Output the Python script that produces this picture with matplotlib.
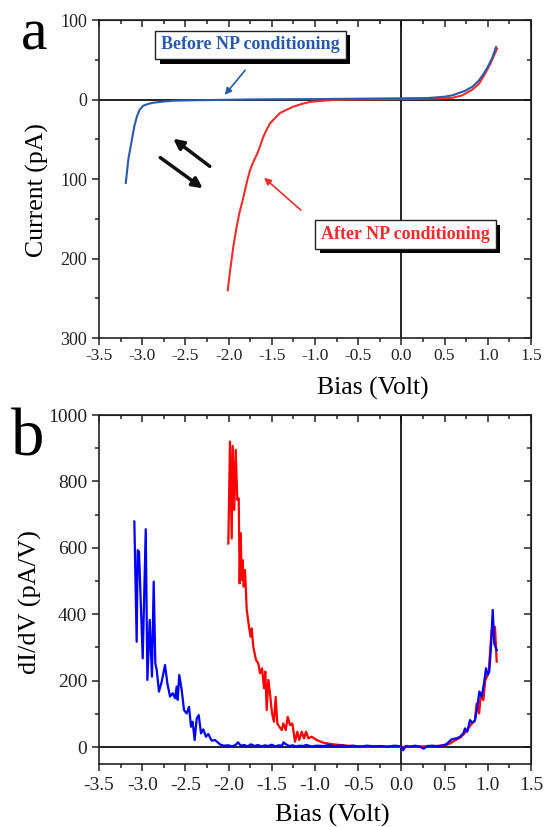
import matplotlib
matplotlib.use("Agg")
import matplotlib.pyplot as plt
from matplotlib.ticker import MultipleLocator, FuncFormatter
import matplotlib.patheffects as pe

plt.rcParams['font.family'] = ['Liberation Serif', 'DejaVu Serif']
plt.rcParams['axes.unicode_minus'] = False

# ---------------- data: panel a (I-V) ----------------
iv_before_x = [-3.19, -3.16, -3.12, -3.09, -3.06, -3.03, -2.99, -2.93, -2.87, -2.75,
               -2.64, -2.4, -2.1, -1.8, -1.5, -1.0, -0.5, 0.0, 0.3, 0.5,
               0.6, 0.66, 0.74, 0.82, 0.89, 0.95, 1.0, 1.05, 1.095]
iv_before_y = [-105, -75, -51, -33, -21, -13, -8, -5.5, -4, -2.5,
               -1.5, -1, -0.5, 0, 0.3, 0.5, 1, 1.5, 1.8, 3.5,
               5.5, 8, 11, 16, 23, 32, 41, 52, 66]

iv_after_x = [-2.01, -1.98, -1.945, -1.91, -1.876, -1.84, -1.81, -1.78, -1.752, -1.72,
              -1.694, -1.66, -1.637, -1.598, -1.56, -1.52, -1.46, -1.405, -1.33, -1.25,
              -1.15, -1.058, -0.9, -0.79, -0.6, -0.41, 0.0, 0.3, 0.5, 0.585,
              0.7, 0.817, 0.9, 0.971, 1.03, 1.107]
iv_after_y = [-240, -213, -185, -162, -143, -128, -114, -100, -89, -80,
              -74, -66, -59, -47, -38, -30, -23, -17, -13, -9,
              -5.5, -3, -1.5, -0.6, -0.2, 0, 0.5, 1, 1.5, 2,
              5, 12, 20, 33, 45, 64]

# ---------------- data: panel b (dI/dV) ----------------
didv_before_x = [-3.091, -3.064, -3.052, -3.037, -2.994, -2.959, -2.94, -2.913, -2.887, -2.867,
                 -2.848, -2.832, -2.806, -2.774, -2.736, -2.709, -2.678, -2.647, -2.62, -2.601,
                 -2.589, -2.571, -2.543, -2.516, -2.485, -2.458, -2.435, -2.416, -2.393, -2.369,
                 -2.346, -2.319, -2.293, -2.262, -2.235, -2.196, -2.157, -2.1, -2.06, -2.0,
                 -1.96, -1.92, -1.89, -1.86, -1.82, -1.78, -1.74, -1.7, -1.66, -1.62,
                 -1.58, -1.54, -1.5, -1.46, -1.42, -1.38, -1.366, -1.34, -1.3, -1.26,
                 -1.22, -1.18, -1.14, -1.1, -1.04, -0.98, -0.9, -0.84, -0.78, -0.7,
                 -0.62, -0.56, -0.48, -0.4, -0.32, -0.24, -0.16, -0.08, 0.0, 0.02,
                 0.05, 0.1, 0.16, 0.22, 0.26, 0.3, 0.36, 0.42, 0.48, 0.524,
                 0.55, 0.582, 0.61, 0.64, 0.678, 0.717, 0.736, 0.763, 0.794, 0.825,
                 0.852, 0.879, 0.902, 0.929, 0.956, 0.979, 0.999, 1.017, 1.037, 1.057,
                 1.075, 1.103]
didv_before_y = [679, 317, 593, 588, 267, 656, 202, 383, 212, 498,
                 252, 232, 167, 197, 247, 192, 152, 162, 147, 182,
                 142, 217, 172, 111, 101, 121, 61, 76, 21, 86,
                 96, 41, 53, 31, 39, 19, 21, 8, 4, 5,
                 2, 6, 14, 4, 6, 2, 8, 3, 6, 2,
                 5, 3, 7, 2, 5, 4, 14, 9, 3, 5,
                 2, 4, 3, 6, 2, 4, 3, 6, 2, 5,
                 2, 4, 1, 4, 2, 3, 1, 4, 2, -10,
                 3, 1, 4, 0, -5, 3, 4, 2, 5, 9,
                 16, 23, 25, 26, 31, 41, 56, 46, 81, 73,
                 81, 121, 167, 152, 192, 237, 217, 227, 302, 413,
                 312, 292]

didv_after_x = [-2.003, -1.984, -1.964, -1.953, -1.934, -1.918, -1.899, -1.883, -1.872, -1.86,
                -1.849, -1.837, -1.825, -1.81, -1.79, -1.764, -1.745, -1.733, -1.714, -1.683,
                -1.656, -1.637, -1.613, -1.59, -1.575, -1.559, -1.54, -1.521, -1.498, -1.475,
                -1.455, -1.436, -1.413, -1.385, -1.367, -1.339, -1.316, -1.289, -1.263, -1.231,
                -1.205, -1.182, -1.154, -1.127, -1.104, -1.077, -1.038, -0.98, -0.904, -0.788,
                -0.63, -0.5, -0.4, -0.3, -0.2, -0.1, 0.0, 0.1, 0.2, 0.3,
                0.4, 0.5, 0.56, 0.62, 0.68, 0.72, 0.76, 0.79, 0.82, 0.85,
                0.87, 0.9, 0.92, 0.948, 0.97, 0.99, 1.01, 1.03, 1.045, 1.06,
                1.083, 1.103]
didv_after_y = [613, 920, 628, 907, 714, 895, 744, 749, 493, 644,
                503, 563, 483, 533, 413, 362, 332, 357, 302, 262,
                252, 222, 237, 177, 227, 111, 202, 162, 102, 76,
                151, 71, 61, 51, 71, 51, 91, 66, 71, 16,
                46, 21, 46, 26, 46, 26, 31, 21, 13, 8,
                4, 2, 1, 2, 1, 2, 0, 1, 2, 2,
                3, 5, 10, 20, 28, 38, 50, 62, 72, 78,
                131, 101, 160, 141, 200, 212, 225, 300, 352, 340,
                362, 257]

x_ticks = [-3.5, -3.0, -2.5, -2.0, -1.5, -1.0, -0.5, 0.0, 0.5, 1.0, 1.5]
iv_yticks = [100, 0, -100, -200, -300]
didv_yticks = [0, 200, 400, 600, 800, 1000]

W, H = 544, 827
fig = plt.figure(figsize=(W / 100, H / 100), dpi=100)

def px_rect(l, t, r, b):
    return [l / W, 1 - b / H, (r - l) / W, (b - t) / H]

ax1 = fig.add_axes(px_rect(99, 20, 531, 338))
ax2 = fig.add_axes(px_rect(99, 415, 531, 763.6))

BLUE_A = '#2a5aa8'
RED_A = '#ee2d2d'

def style(ax, xlab_size, ylab_size, xpad, yticks, yminor):
    for s in ax.spines.values():
        s.set_linewidth(1.2)
        s.set_color('#222222')
    ax.xaxis.set_major_locator(MultipleLocator(0.5))
    ax.xaxis.set_minor_locator(MultipleLocator(0.25))
    ax.tick_params(which='both', direction='out', top=False, right=False, width=1.1, colors='#222222')
    ax.tick_params(which='major', length=5)
    ax.tick_params(which='minor', length=3)
    ax.tick_params(axis='x', labelsize=xlab_size, pad=xpad)
    ax.tick_params(axis='y', labelsize=ylab_size, pad=3.5)
    sec_x = ax.secondary_xaxis('top')
    sec_x.xaxis.set_major_locator(MultipleLocator(0.5))
    sec_x.xaxis.set_minor_locator(MultipleLocator(0.25))
    sec_x.tick_params(which='both', direction='in', labeltop=False, width=1.1, colors='#222222')
    sec_x.tick_params(which='major', length=5)
    sec_x.tick_params(which='minor', length=3)
    sec_y = ax.secondary_yaxis('right')
    sec_y.set_yticks(yticks)
    sec_y.yaxis.set_minor_locator(MultipleLocator(yminor))
    sec_y.tick_params(which='both', direction='in', labelright=False, width=1.1, colors='#222222')
    sec_y.tick_params(which='major', length=5)
    sec_y.tick_params(which='minor', length=3)

# ---------------- panel a ----------------
ax1.plot(iv_after_x, iv_after_y, color=RED_A, lw=1.5, zorder=3)
ax1.plot(iv_before_x, iv_before_y, color=BLUE_A, lw=1.5, zorder=4)
ax1.axhline(0, color='#111111', lw=1.3, zorder=2)
ax1.axvline(0, color='#111111', lw=1.3, zorder=2)
ax1.set_xlim(-3.5, 1.5)
ax1.set_ylim(-300, 100)
ax1.set_xticks(x_ticks)
ax1.set_yticks(iv_yticks)
ax1.yaxis.set_minor_locator(MultipleLocator(50))
ax1.xaxis.set_major_formatter(FuncFormatter(lambda v, p: f"{v:.1f}"))
ax1.yaxis.set_major_formatter(FuncFormatter(lambda v, p: f"{abs(v):.0f}"))
style(ax1, 12.5, 13, 2, iv_yticks, 50)

def boxed(ax, x, y, text, color):
    t = ax.text(x, y, text, ha='center', va='center', fontsize=13, fontweight='bold',
                color=color, zorder=6,
                bbox=dict(boxstyle='square,pad=0.32', facecolor='white', edgecolor='#222222', lw=1))
    t.get_bbox_patch().set_path_effects([
        pe.SimplePatchShadow(offset=(3.4, -3.4), shadow_rgbFace='black', alpha=1.0),
        pe.Normal()])
    return t

boxed(ax1, -1.747, 68.6, 'Before NP conditioning', BLUE_A)
boxed(ax1, 0.047, -169.8, 'After NP conditioning', RED_A)

ax1.annotate('', xy=(-2.065, 3.1), xytext=(-1.787, 39.6),
             arrowprops=dict(arrowstyle='-|>', color=BLUE_A, lw=1.2, mutation_scale=10), zorder=7)
ax1.annotate('', xy=(-1.613, -96.2), xytext=(-1.139, -141.5),
             arrowprops=dict(arrowstyle='-|>', color=RED_A, lw=1.2, mutation_scale=10), zorder=7)
ax1.annotate('', xy=(-2.667, -47.2), xytext=(-2.192, -86.2),
             arrowprops=dict(arrowstyle='-|>', color='#111111', lw=2.5, mutation_scale=15), zorder=7)
ax1.annotate('', xy=(-2.273, -113.8), xytext=(-2.817, -71),
             arrowprops=dict(arrowstyle='-|>', color='#111111', lw=2.5, mutation_scale=15), zorder=7)

# ---------------- panel b ----------------
ax2.plot(didv_after_x, didv_after_y, color='#ff0000', lw=1.6, zorder=3)
ax2.plot(didv_before_x, didv_before_y, color='#0000ff', lw=1.6, zorder=4)
ax2.axhline(0, color='#111111', lw=1.3, zorder=2)
ax2.axvline(0, color='#111111', lw=1.3, zorder=2)
ax2.set_xlim(-3.5, 1.5)
ax2.set_ylim(-50, 1000)
ax2.set_xticks(x_ticks)
ax2.set_yticks(didv_yticks)
ax2.yaxis.set_minor_locator(MultipleLocator(100))
ax2.xaxis.set_major_formatter(FuncFormatter(lambda v, p: f"{v:.1f}"))
style(ax2, 14, 14, 5, didv_yticks, 100)

# ---------------- labels ----------------
def fx(px):
    return px / W

def fy(py):
    return 1 - py / H

fig.text(fx(373), fy(395), 'Bias (Volt)', ha='center', va='baseline', fontsize=18.5)
fig.text(fx(332), fy(822), 'Bias (Volt)', ha='center', va='baseline', fontsize=19)
fig.text(fx(37), fy(190), 'Current (pA)', ha='center', va='center', rotation=90, fontsize=18.5)
fig.text(fx(30), fy(602), 'dI/dV (pA/V)', ha='center', va='center', rotation=90, fontsize=19)
fig.text(fx(21), fy(50), 'a', ha='left', va='baseline', fontsize=43)
fig.text(fx(11), fy(455), 'b', ha='left', va='baseline', fontsize=48)

fig.savefig('out.png', dpi=100)
